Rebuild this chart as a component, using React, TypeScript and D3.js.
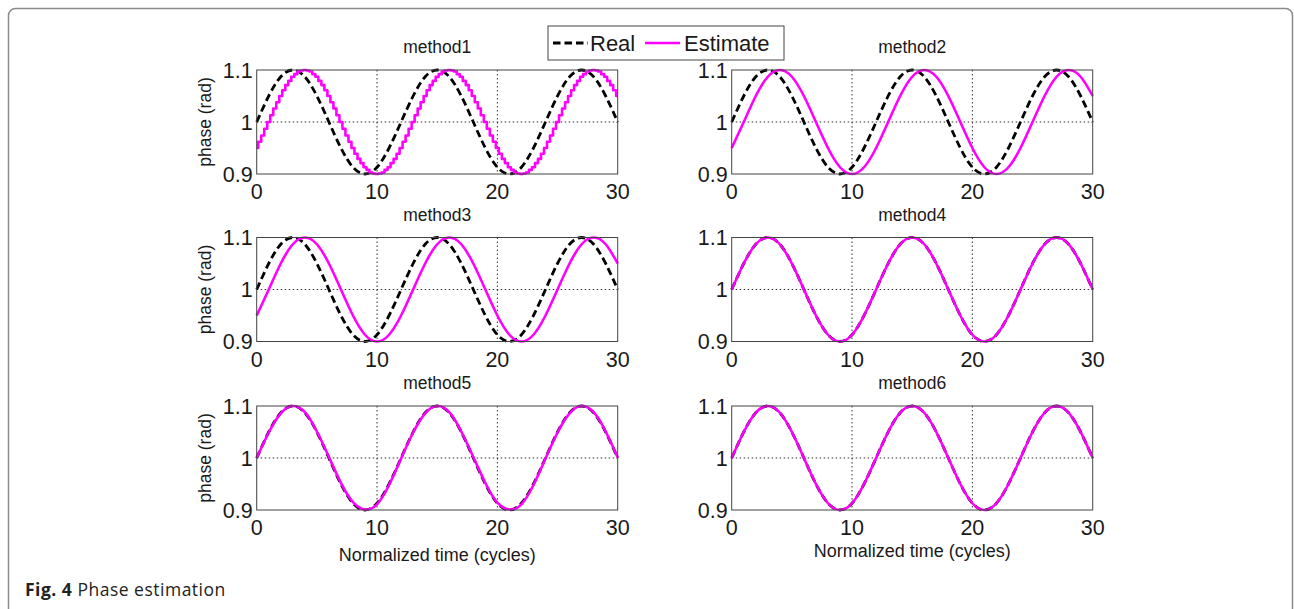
import React, { useEffect, useRef } from "react";
import * as d3 from "d3";

// phase samples, one per cycle (t = 0..30)
const realPhase = [
  1.000, 1.050, 1.087, 1.100, 1.087, 1.050, 1.000, 0.950, 0.913, 0.900, 0.913, 0.950,
  1.000, 1.050, 1.087, 1.100, 1.087, 1.050, 1.000, 0.950, 0.913, 0.900, 0.913, 0.950,
  1.000, 1.050, 1.087, 1.100, 1.087, 1.050, 1.000,
];

// lagged estimate (methods 2 and 3), one per cycle
const laggedEstimate = [
  0.950, 1.000, 1.050, 1.087, 1.100, 1.087, 1.050, 1.000, 0.950, 0.913, 0.900, 0.913,
  0.950, 1.000, 1.050, 1.087, 1.100, 1.087, 1.050, 1.000, 0.950, 0.913, 0.900, 0.913,
  0.950, 1.000, 1.050, 1.087, 1.100, 1.087, 1.050,
];

// method1 estimate is a staircase, read every quarter cycle (t = 0..30)
const method1Estimate = [
  0.950, 0.962, 0.974, 0.987,
  1.000, 1.013, 1.026, 1.038, 1.050, 1.061, 1.071, 1.079, 1.087, 1.092, 1.097, 1.099,
  1.100, 1.099, 1.097, 1.092, 1.087, 1.079, 1.071, 1.061, 1.050, 1.038, 1.026, 1.013,
  1.000, 0.987, 0.974, 0.962, 0.950, 0.939, 0.929, 0.921, 0.913, 0.908, 0.903, 0.901,
  0.900, 0.901, 0.903, 0.908, 0.913, 0.921, 0.929, 0.939, 0.950, 0.962, 0.974, 0.987,
  1.000, 1.013, 1.026, 1.038, 1.050, 1.061, 1.071, 1.079, 1.087, 1.092, 1.097, 1.099,
  1.100, 1.099, 1.097, 1.092, 1.087, 1.079, 1.071, 1.061, 1.050, 1.038, 1.026, 1.013,
  1.000, 0.987, 0.974, 0.962, 0.950, 0.939, 0.929, 0.921, 0.913, 0.908, 0.903, 0.901,
  0.900, 0.901, 0.903, 0.908, 0.913, 0.921, 0.929, 0.939, 0.950, 0.962, 0.974, 0.987,
  1.000, 1.013, 1.026, 1.038, 1.050, 1.061, 1.071, 1.079, 1.087, 1.092, 1.097, 1.099,
  1.100, 1.099, 1.097, 1.092, 1.087, 1.079, 1.071, 1.061, 1.050,
];

// method5 follows the real phase closely
const method5Estimate = [
  1.000, 1.049, 1.086, 1.100, 1.088, 1.051, 1.002, 0.952, 0.915, 0.901, 0.911, 0.948,
  0.999, 1.049, 1.086, 1.100, 1.088, 1.051, 1.002, 0.952, 0.914, 0.901, 0.911, 0.948,
  0.999, 1.049, 1.086, 1.100, 1.088, 1.051, 1.001,
];

// methods 4 and 6 sit on top of the real phase
const method4Estimate = realPhase;
const method6Estimate = realPhase;

const panelTitles = ["method1", "method2", "method3", "method4", "method5", "method6"];
const xTicks = [0, 10, 20, 30];
const yTicks = [0.9, 1, 1.1];
const yTickLabels = ["0.9", "1", "1.1"];
const legendLabels = ["Real", "Estimate"];

const cycleTime = d3.range(0, 31);
const quarterTime = d3.range(0, 121).map((k) => k / 4);

const FONT = "'Liberation Sans', Arial, Helvetica, sans-serif";

export default function App() {
  const svgRef = useRef<SVGSVGElement>(null);

  useEffect(() => {
    const svg = d3.select(svgRef.current);
    svg.selectAll("*").remove();

    // outer frame
    svg.append("rect")
      .attr("x", 8.5).attr("y", 8.5)
      .attr("width", 1284).attr("height", 640)
      .attr("rx", 7)
      .attr("fill", "white")
      .attr("stroke", "#8a8a8a")
      .attr("stroke-width", 1.5);

    const colLeft = [256.7, 731.7];
    const rowTop = [70, 237.5, 406];
    const w = 361;
    const h = 104;

    const estimates = [
      { values: method1Estimate, time: quarterTime, step: true },
      { values: laggedEstimate, time: cycleTime, step: false },
      { values: laggedEstimate, time: cycleTime, step: false },
      { values: method4Estimate, time: cycleTime, step: false },
      { values: method5Estimate, time: cycleTime, step: false },
      { values: method6Estimate, time: cycleTime, step: false },
    ];

    panelTitles.forEach((title, i) => {
      const col = i % 2;
      const row = Math.floor(i / 2);
      const x = d3.scaleLinear().domain([0, 30]).range([0, w]);
      const y = d3.scaleLinear().domain([0.9, 1.1]).range([h, 0]);

      const g = svg.append("g")
        .attr("transform", `translate(${colLeft[col]},${rowTop[row]})`);

      g.append("rect")
        .attr("width", w).attr("height", h)
        .attr("fill", "white");

      // grid
      g.selectAll(".vgrid")
        .data(xTicks.slice(1, -1))
        .join("line")
        .attr("x1", (d) => x(d)).attr("x2", (d) => x(d))
        .attr("y1", 0).attr("y2", h)
        .attr("stroke", "#333").attr("stroke-width", 1)
        .attr("stroke-dasharray", "1.5,2.5");
      g.append("line")
        .attr("x1", 0).attr("x2", w)
        .attr("y1", y(1)).attr("y2", y(1))
        .attr("stroke", "#333").attr("stroke-width", 1)
        .attr("stroke-dasharray", "1.5,2.5");

      // lines
      const realLine = d3.line<number>()
        .x((_, k) => x(cycleTime[k]))
        .y((d) => y(d))
        .curve(d3.curveNatural);
      g.append("path")
        .datum(realPhase)
        .attr("fill", "none")
        .attr("stroke", "black")
        .attr("stroke-width", 2.8)
        .attr("stroke-dasharray", "7.5,4")
        .attr("d", realLine);

      const est = estimates[i];
      const estLine = d3.line<number>()
        .x((_, k) => x(est.time[k]))
        .y((d) => y(d))
        .curve(est.step ? d3.curveStep : d3.curveNatural);
      g.append("path")
        .datum(est.values)
        .attr("fill", "none")
        .attr("stroke", "#ff00ff")
        .attr("stroke-width", 2.6)
        .attr("stroke-linejoin", "round")
        .attr("d", estLine);

      // frame
      g.append("rect")
        .attr("width", w).attr("height", h)
        .attr("fill", "none")
        .attr("stroke", "#444").attr("stroke-width", 1);

      // tick labels
      g.selectAll(".xt")
        .data(xTicks)
        .join("text")
        .attr("x", (d) => x(d))
        .attr("y", h + 25)
        .attr("text-anchor", "middle")
        .attr("font-family", FONT)
        .attr("font-size", 21.5)
        .attr("fill", "#1a1a1a")
        .text((d) => String(d));
      g.selectAll(".yt")
        .data(yTicks)
        .join("text")
        .attr("x", -4)
        .attr("y", (d) => y(d) + 7.5)
        .attr("text-anchor", "end")
        .attr("font-family", FONT)
        .attr("font-size", 21.5)
        .attr("fill", "#1a1a1a")
        .text((_, k) => yTickLabels[k]);

      // title
      g.append("text")
        .attr("x", w / 2)
        .attr("y", -16.7)
        .attr("text-anchor", "middle")
        .attr("font-family", FONT)
        .attr("font-size", 17.5)
        .attr("fill", "#1a1a1a")
        .text(title);

      if (col === 0) {
        g.append("text")
          .attr("transform", `translate(${211 - colLeft[0]},${h / 2}) rotate(-90)`)
          .attr("text-anchor", "middle")
          .attr("font-family", FONT)
          .attr("font-size", 17.5)
          .attr("fill", "#1a1a1a")
          .text("phase (rad)");
      }
      if (row === 2) {
        g.append("text")
          .attr("x", w / 2)
          .attr("y", (col === 0 ? 554 : 550) - rowTop[2] + 6.5)
          .attr("text-anchor", "middle")
          .attr("font-family", FONT)
          .attr("font-size", 18)
          .attr("fill", "#1a1a1a")
          .text("Normalized time (cycles)");
      }
    });

    // legend
    const lg = svg.append("g").attr("transform", "translate(548,26)");
    lg.append("rect")
      .attr("width", 236).attr("height", 34)
      .attr("fill", "white")
      .attr("stroke", "#444").attr("stroke-width", 1);
    lg.append("line")
      .attr("x1", 5).attr("x2", 40).attr("y1", 17).attr("y2", 17)
      .attr("stroke", "black").attr("stroke-width", 2.8)
      .attr("stroke-dasharray", "7.5,4");
    lg.append("line")
      .attr("x1", 97).attr("x2", 132).attr("y1", 17).attr("y2", 17)
      .attr("stroke", "#ff00ff").attr("stroke-width", 2.6);
    lg.selectAll(".lt")
      .data(legendLabels)
      .join("text")
      .attr("x", (_, k) => (k === 0 ? 42 : 136))
      .attr("y", 24.5)
      .attr("font-family", FONT)
      .attr("font-size", 22)
      .attr("fill", "#1a1a1a")
      .text((d) => d);

    // caption
    const cap = svg.append("text")
      .attr("x", 25).attr("y", 596)
      .attr("font-family", "'Open Sans', 'Noto Sans', sans-serif")
      .attr("font-size", 17.5)
      .attr("letter-spacing", 0.5)
      .attr("fill", "#222");
    cap.append("tspan").attr("font-weight", 700).text("Fig. 4");
    cap.append("tspan").text(" Phase estimation");
  }, []);

  return (
    <div style={{ position: "absolute", left: 0, top: 0 }}>
      <svg ref={svgRef} width={1294} height={609} style={{ display: "block" }} />
    </div>
  );
}
